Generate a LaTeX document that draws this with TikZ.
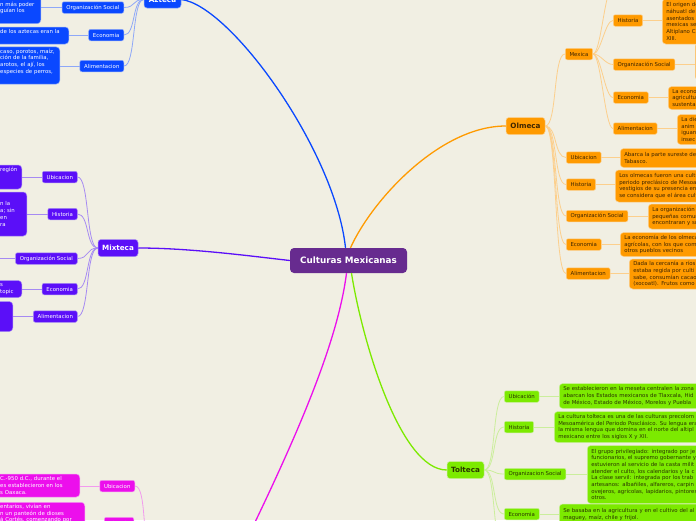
\documentclass[tikz,border=0pt]{standalone}
\usepackage{fontspec}
\setmainfont{DejaVu Sans}
\definecolor{paper}{HTML}{F1EFE3}
\definecolor{rootink}{HTML}{672B8F}
\definecolor{azfill}{HTML}{0A48FF}
\definecolor{azwire}{HTML}{8EA8F8}
\definecolor{mxfill}{HTML}{5B0FF8}
\definecolor{mxwire}{HTML}{A68AF2}
\definecolor{olfill}{HTML}{FF9A00}
\definecolor{olwire}{HTML}{FCCF8C}
\definecolor{oltext}{HTML}{3E2500}
\definecolor{tofill}{HTML}{7CEA00}
\definecolor{towire}{HTML}{CBEE9C}
\definecolor{totext}{HTML}{2A3600}
\definecolor{zafill}{HTML}{EC0FEC}
\definecolor{zawire}{HTML}{F29AEE}

\tikzset{
  root/.style={fill=rootink, text=white, rounded corners=4pt,
    minimum width=117pt, minimum height=25pt, inner sep=0pt,
    font=\bfseries\fontsize{8.8}{10}\selectfont},
  branch/.style={rounded corners=3pt, minimum height=17pt, inner xsep=4pt,
    inner ysep=0pt, line width=0.5pt, font=\bfseries\fontsize{7.2}{8}\selectfont},
  topic/.style={rounded corners=2pt, minimum height=11.5pt, inner xsep=4.3pt,
    inner ysep=0pt, line width=0.5pt, font=\fontsize{5.4}{6.7}\selectfont},
  note/.style={rounded corners=3.5pt, inner xsep=4pt, inner ysep=2pt,
    line width=0.5pt, align=left, font=\fontsize{5.4}{6.7}\selectfont},
  azteca/.style={fill=azfill, draw=azwire, text=white},
  mixteca/.style={fill=mxfill, draw=mxwire, text=white},
  olmeca/.style={fill=olfill, draw=olwire, text=oltext},
  tolteca/.style={fill=tofill, draw=towire, text=totext},
  zapoteca/.style={fill=zafill, draw=zawire, text=white},
  trunk/.style={line width=1.3pt},
  twig/.style={line width=0.8pt},
}

\begin{document}
\begin{tikzpicture}[x=1pt, y=-1pt]
  \clip (0,0) rectangle (696,520);
  \useasboundingbox (0,0) rectangle (696,520);
  \fill[paper] (0,0) rectangle (696,520);

  % centre
  \node[root] (cm) at (348.5,260.5) {Culturas Mexicanas};

  % Azteca
  \node[branch, azteca, minimum width=37pt] (az) at (162.5,-0.5) {Azteca};
  \node[topic, azteca, anchor=east] (azo) at (124,7.5) {Organización Social};
  \node[topic, azteca, anchor=east] (aze) at (124,35) {Economia};
  \node[topic, azteca, anchor=east] (aza) at (124,66) {Alimentacion};
  \node[note, azteca, anchor=east, text width=36.5pt, minimum height=29.5pt] (azon) at (41,8.25)
    {\strut\\ n más poder\\ guían los\\ \strut};
  \node[note, azteca, anchor=east, text width=64.5pt, minimum height=17pt] (azen) at (69,35.5)
    {de los aztecas eran la\\ \strut};
  \node[note, azteca, anchor=east, text width=55.5pt, minimum height=35pt] (azan) at (60,65.5)
    {caso, porotos, maíz,\\ ción de la familia,\\ arotos, el ají, los\\ especies de perros,\\ \strut};

  % Mixteca
  \node[branch, mixteca, minimum width=40pt] (mx) at (118,248) {Mixteca};
  \node[topic, mixteca, anchor=east] (mxu) at (77.5,177) {Ubicacion};
  \node[topic, mixteca, anchor=east] (mxh) at (77.5,214) {Historia};
  \node[topic, mixteca, anchor=east] (mxo) at (77.5,258.5) {Organización Social};
  \node[topic, mixteca, anchor=east] (mxe) at (77.5,289) {Economia};
  \node[topic, mixteca, anchor=east] (mxa) at (77.5,316.5) {Alimentacion};
  \node[note, mixteca, anchor=east, text width=17.5pt, minimum height=24pt] (mxun) at (22,177)
    {región\\ \strut\\ \strut};
  \node[note, mixteca, anchor=east, text width=22.5pt, minimum height=44pt] (mxhn) at (27,214)
    {n la\\ a; sin\\ en\\ ra};
  \coordinate (mxon) at (-4,258.5);
  \node[note, mixteca, anchor=east, text width=17.5pt, minimum height=17pt] (mxen) at (22,289)
    {s\\ topic};
  \node[note, mixteca, anchor=east, text width=8.5pt, minimum height=30pt] (mxan) at (13,316.5) {};

  % Olmeca
  \node[branch, olmeca, minimum width=39pt] (ol) at (525.5,126) {Olmeca};
  \node[topic, olmeca, anchor=west] (olm) at (565,54) {Mexica};
  \node[topic, olmeca, anchor=west] (olu) at (566,157.5) {Ubicacion};
  \node[topic, olmeca, anchor=west] (olh) at (566,184.5) {Historia};
  \node[topic, olmeca, anchor=west] (olo) at (566,216) {Organización Social};
  \node[topic, olmeca, anchor=west] (ole) at (566,244.5) {Economia};
  \node[topic, olmeca, anchor=west] (ola) at (566,273.5) {Alimentacion};
  \node[note, olmeca, anchor=west, text width=150pt, minimum height=19pt] (olun) at (620,158)
    {Abarca la parte sureste de\\ Tabasco.};
  \node[note, olmeca, anchor=west, text width=150pt, minimum height=32pt] (olhn) at (615,186)
    {Los olmecas fueron una cultu\\ periodo preclásico de Mesoam\\ vestigios de su presencia en\\ se considera que el área cult};
  \node[note, olmeca, anchor=west, text width=150pt, minimum height=25pt] (olon) at (648,216.5)
    {La organización s\\ pequeñas comunid\\ encontraran y su};
  \node[note, olmeca, anchor=west, text width=150pt, minimum height=24pt] (olen) at (620,244.5)
    {La economía de los olmecas\\ agrícolas, con los que com\\ otros pueblos vecinos};
  \node[note, olmeca, anchor=west, text width=150pt, minimum height=30pt] (olan) at (629,274)
    {Dada la cercanía a ríos\\ estaba regida por culti\\ sabe, consumían cacao\\ (xocoatl). Frutos como};

  % Mexica
  \node[topic, olmeca, anchor=west] (olmh) at (613,20.5) {Historia};
  \node[topic, olmeca, anchor=west] (olmo) at (613,64.5) {Organización Social};
  \node[topic, olmeca, anchor=west] (olme) at (613,97.5) {Economia};
  \node[topic, olmeca, anchor=west] (olma) at (613,128.5) {Alimentacion};
  \coordinate (olmu) at (613,-14);
  \node[note, olmeca, anchor=west, text width=150pt, minimum height=45pt] (olmhn) at (662,21.5)
    {El origen de\\ náhuatl de\\ asentados\\ mexicas se\\ Altiplano C\\ XIII.};
  \node[note, olmeca, anchor=west, text width=20pt, minimum height=37pt] (olmon) at (695,61.5) {};
  \node[note, olmeca, anchor=west, text width=150pt, minimum height=23pt] (olmen) at (668,98)
    {La econo\\ agricultu\\ sustenta};
  \node[note, olmeca, anchor=west, text width=150pt, minimum height=30pt] (olman) at (677,129.5)
    {La die\\ anim\\ iguan\\ insec};

  % Tolteca
  \node[branch, tolteca, minimum width=37pt] (tol) at (465.5,470) {Tolteca};
  \node[topic, tolteca, anchor=west] (tou) at (504,396.5) {Ubicación};
  \node[topic, tolteca, anchor=west] (toh) at (504,427) {Historia};
  \node[topic, tolteca, anchor=west] (too) at (504,474) {Organizacion Social};
  \node[topic, tolteca, anchor=west] (toe) at (504,514) {Economia};
  \coordinate (tola) at (504,548);
  \node[note, tolteca, anchor=west, text width=150pt, minimum height=25pt] (toun) at (559,396)
    {Se establecieron en la meseta centralen la zona\\ abarcan los Estados mexicanos de Tlaxcala, Hid\\ de México, Estado de México, Morelos y Puebla};
  \node[note, tolteca, anchor=west, text width=150pt, minimum height=31pt] (tohn) at (554,427)
    {La cultura tolteca es una de las culturas precolom\\ Mesoamérica del Periodo Posclásico. Su lengua era\\ la misma lengua que domina en el norte del altipl\\ mexicano entre los siglos X y XII.};
  \node[note, tolteca, anchor=west, text width=150pt, minimum height=58pt] (toon) at (587,474.5)
    {El grupo privilegiado: integrado por je\\ funcionarios, el supremo gobernante y\\ estuvieron al servicio de la casta milit\\ atender el culto, los calendarios y la c\\ La clase servil: integrada por los trab\\ artesanos: albañiles, alfareros, carpin\\ ovejeros, agrícolas, lapidarios, pintores,\\ otros.};
  \node[note, tolteca, anchor=west, text width=150pt, minimum height=21pt] (toen) at (559,514.5)
    {Se basaba en la agricultura y en el cultivo del al\\ maguey, maíz, chile y frijol.};

  % Zapoteca
  \coordinate (zae) at (244,545);
  \coordinate (zaw) at (150,548);
  \node[topic, zapoteca, anchor=east] (zu) at (135,486) {Ubicacion};
  \node[topic, zapoteca, anchor=east] (zh) at (134,523) {Historia};
  \node[note, zapoteca, anchor=east, text width=75.5pt, minimum height=23pt] (zun) at (80,485.5)
    {C.-950 d.C., durante el\\ es establecieron en los\\ s Oaxaca.};
  \node[note, zapoteca, anchor=north east, text width=80.5pt, minimum height=30pt] (zhn) at (85,502)
    {entarios, vivían en\\ n un panteón de dioses\\ á Cortés, comenzando por\\ \strut};

  % trunks
  \draw[azfill, trunk] ([xshift=-3pt]cm.north) .. controls (335,150) and (230,5) .. (az.east);
  \draw[olfill, trunk] ([xshift=2pt]cm.north) .. controls (372,200) and (440,126) .. (ol.west);
  \draw[mxfill, trunk] (mx.east) .. controls (190,248) and (250,256) .. (cm.west);
  \draw[tofill, trunk] ([xshift=3pt]cm.south) .. controls (362,340) and (400,470) .. (tol.west);
  \draw[zafill, trunk] ([xshift=-2pt]cm.south) .. controls (338,340) and (300,430) .. (zae);

  % Azteca twigs
  \draw[azwire, twig] (az.west) .. controls +(-12,0) and +(12,0) .. (azo.east);
  \draw[azwire, twig] (az.west) .. controls +(-12,0) and +(12,0) .. (aze.east);
  \draw[azwire, twig] (az.west) .. controls +(-12,0) and +(12,0) .. (aza.east);
  \draw[azwire, twig] (azo.west) -- (azo.west -| azon.east);
  \draw[azwire, twig] (aze.west) -- (aze.west -| azen.east);
  \draw[azwire, twig] (aza.west) -- (aza.west -| azan.east);

  % Mixteca twigs
  \draw[mxwire, twig] (mx.west) .. controls +(-12,0) and +(12,0) .. (mxu.east);
  \draw[mxwire, twig] (mx.west) .. controls +(-12,0) and +(12,0) .. (mxh.east);
  \draw[mxwire, twig] (mx.west) .. controls +(-12,0) and +(12,0) .. (mxo.east);
  \draw[mxwire, twig] (mx.west) .. controls +(-12,0) and +(12,0) .. (mxe.east);
  \draw[mxwire, twig] (mx.west) .. controls +(-12,0) and +(12,0) .. (mxa.east);
  \draw[mxwire, twig] (mxu.west) -- (mxu.west -| mxun.east);
  \draw[mxwire, twig] (mxh.west) -- (mxh.west -| mxhn.east);
  \draw[mxwire, twig] (mxo.west) -- (mxon);
  \draw[mxwire, twig] (mxe.west) -- (mxe.west -| mxen.east);
  \draw[mxwire, twig] (mxa.west) -- (mxa.west -| mxan.east);

  % Olmeca twigs
  \draw[olwire, twig] (ol.east) .. controls +(12,0) and +(-12,0) .. (olm.west);
  \draw[olwire, twig] (ol.east) .. controls +(12,0) and +(-12,0) .. (olu.west);
  \draw[olwire, twig] (ol.east) .. controls +(12,0) and +(-12,0) .. (olh.west);
  \draw[olwire, twig] (ol.east) .. controls +(12,0) and +(-12,0) .. (olo.west);
  \draw[olwire, twig] (ol.east) .. controls +(12,0) and +(-12,0) .. (ole.west);
  \draw[olwire, twig] (ol.east) .. controls +(12,0) and +(-12,0) .. (ola.west);
  \draw[olwire, twig] (olu.east) -- (olu.east -| olun.west);
  \draw[olwire, twig] (olh.east) -- (olh.east -| olhn.west);
  \draw[olwire, twig] (olo.east) -- (olo.east -| olon.west);
  \draw[olwire, twig] (ole.east) -- (ole.east -| olen.west);
  \draw[olwire, twig] (ola.east) -- (ola.east -| olan.west);

  % Mexica twigs
  \draw[olwire, twig] (olm.east) .. controls +(8,0) and +(-8,0) .. (olmu);
  \draw[olwire, twig] (olm.east) .. controls +(8,0) and +(-8,0) .. (olmh.west);
  \draw[olwire, twig] (olm.east) .. controls +(8,0) and +(-8,0) .. (olmo.west);
  \draw[olwire, twig] (olm.east) .. controls +(8,0) and +(-8,0) .. (olme.west);
  \draw[olwire, twig] (olm.east) .. controls +(8,0) and +(-8,0) .. (olma.west);
  \draw[olwire, twig] (olmh.east) -- (olmh.east -| olmhn.west);
  \draw[olwire, twig] (olmo.east) -- (olmo.east -| olmon.west);
  \draw[olwire, twig] (olme.east) -- (olme.east -| olmen.west);
  \draw[olwire, twig] (olma.east) -- (olma.east -| olman.west);

  % Tolteca twigs
  \draw[towire, twig] (tol.east) .. controls +(12,0) and +(-12,0) .. (tou.west);
  \draw[towire, twig] (tol.east) .. controls +(12,0) and +(-12,0) .. (toh.west);
  \draw[towire, twig] (tol.east) .. controls +(12,0) and +(-12,0) .. (too.west);
  \draw[towire, twig] (tol.east) .. controls +(12,0) and +(-12,0) .. (toe.west);
  \draw[towire, twig] (tol.east) .. controls +(12,0) and +(-12,0) .. (tola);
  \draw[towire, twig] (tou.east) -- (tou.east -| toun.west);
  \draw[towire, twig] (toh.east) -- (toh.east -| tohn.west);
  \draw[towire, twig] (too.east) -- (too.east -| toon.west);
  \draw[towire, twig] (toe.east) -- (toe.east -| toen.west);

  % Zapoteca twigs
  \draw[zawire, twig] (zaw) .. controls +(-8,0) and +(12,0) .. (zu.east);
  \draw[zawire, twig] (zaw) .. controls +(-8,0) and +(8,0) .. (zh.east);
  \draw[zawire, twig] (zu.west) -- (zu.west -| zun.east);
  \draw[zawire, twig] (zh.west) -- (zh.west -| zhn.east);
\end{tikzpicture}
\end{document}
